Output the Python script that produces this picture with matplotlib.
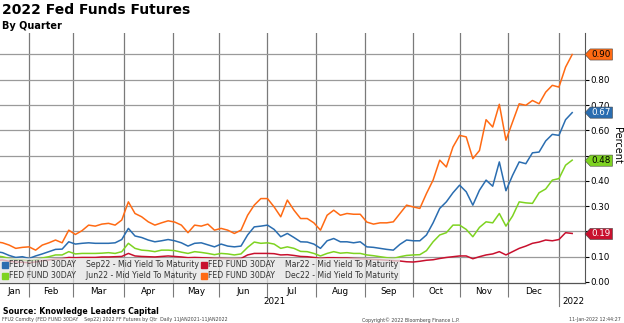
import numpy as np
import pandas as pd
import matplotlib
matplotlib.use("Agg")
import matplotlib.pyplot as plt
import matplotlib.transforms as mtransforms
from matplotlib.lines import Line2D
from matplotlib.patches import Polygon

# dias uteis do grafico (Bloomberg plota so dias da semana)
dias = pd.bdate_range("2021-01-11", "2022-01-11")
amostra = np.arange(0, len(dias), 3)  # um ponto a cada 3 dias uteis

# valores (percent)
dec22 = [0.159, 0.155, 0.146, 0.133, 0.137, 0.139, 0.126, 0.146, 0.155, 0.166,
         0.155, 0.205, 0.188, 0.203, 0.225, 0.221, 0.229, 0.232, 0.225, 0.245,
         0.317, 0.271, 0.258, 0.238, 0.225, 0.234, 0.242, 0.237, 0.225, 0.195,
         0.225, 0.221, 0.229, 0.205, 0.212, 0.205, 0.192, 0.205, 0.264, 0.304,
         0.330, 0.330, 0.297, 0.258, 0.324, 0.284, 0.251, 0.251, 0.234, 0.205,
         0.264, 0.284, 0.264, 0.271, 0.268, 0.268, 0.237, 0.229, 0.234, 0.234,
         0.238, 0.271, 0.304, 0.297, 0.291, 0.350, 0.403, 0.482, 0.455, 0.534,
         0.580, 0.574, 0.488, 0.520, 0.642, 0.613, 0.703, 0.561, 0.633, 0.705,
         0.699, 0.718, 0.705, 0.751, 0.778, 0.771, 0.850, 0.900]
sep22 = [0.120, 0.116, 0.105, 0.097, 0.100, 0.093, 0.103, 0.111, 0.120, 0.129,
         0.130, 0.159, 0.150, 0.153, 0.155, 0.153, 0.153, 0.153, 0.155, 0.168,
         0.212, 0.182, 0.176, 0.166, 0.159, 0.163, 0.168, 0.163, 0.155, 0.142,
         0.153, 0.155, 0.147, 0.139, 0.150, 0.142, 0.139, 0.142, 0.186, 0.218,
         0.221, 0.225, 0.208, 0.179, 0.192, 0.176, 0.159, 0.158, 0.150, 0.133,
         0.163, 0.172, 0.159, 0.159, 0.155, 0.159, 0.139, 0.137, 0.133, 0.129,
         0.126, 0.149, 0.166, 0.163, 0.163, 0.186, 0.234, 0.291, 0.317, 0.353,
         0.383, 0.357, 0.304, 0.363, 0.403, 0.379, 0.475, 0.361, 0.422, 0.475,
         0.468, 0.511, 0.514, 0.558, 0.584, 0.580, 0.642, 0.670]
jun22 = [0.103, 0.100, 0.093, 0.089, 0.087, 0.084, 0.087, 0.095, 0.100, 0.107,
         0.107, 0.120, 0.111, 0.113, 0.113, 0.113, 0.114, 0.116, 0.113, 0.120,
         0.153, 0.133, 0.126, 0.124, 0.120, 0.126, 0.126, 0.124, 0.118, 0.113,
         0.120, 0.117, 0.113, 0.108, 0.113, 0.111, 0.107, 0.111, 0.137, 0.158,
         0.153, 0.155, 0.150, 0.133, 0.139, 0.133, 0.121, 0.120, 0.113, 0.103,
         0.113, 0.120, 0.114, 0.116, 0.113, 0.113, 0.107, 0.104, 0.100, 0.096,
         0.093, 0.100, 0.105, 0.107, 0.108, 0.124, 0.159, 0.186, 0.195, 0.225,
         0.225, 0.208, 0.179, 0.216, 0.238, 0.234, 0.271, 0.221, 0.261, 0.317,
         0.313, 0.311, 0.353, 0.368, 0.403, 0.409, 0.462, 0.482]
mar22 = [0.085, 0.087, 0.082, 0.079, 0.078, 0.076, 0.079, 0.084, 0.087, 0.091,
         0.092, 0.097, 0.096, 0.097, 0.097, 0.097, 0.099, 0.099, 0.100, 0.101,
         0.113, 0.103, 0.101, 0.100, 0.099, 0.101, 0.103, 0.101, 0.099, 0.096,
         0.097, 0.096, 0.095, 0.093, 0.093, 0.092, 0.092, 0.093, 0.107, 0.113,
         0.113, 0.113, 0.112, 0.107, 0.108, 0.105, 0.101, 0.100, 0.097, 0.093,
         0.096, 0.096, 0.095, 0.095, 0.093, 0.092, 0.091, 0.089, 0.088, 0.086,
         0.084, 0.083, 0.080, 0.079, 0.082, 0.086, 0.088, 0.093, 0.097, 0.100,
         0.103, 0.103, 0.092, 0.100, 0.107, 0.111, 0.120, 0.107, 0.120, 0.133,
         0.142, 0.153, 0.158, 0.166, 0.163, 0.168, 0.195, 0.192]
ultimos = [0.90, 0.67, 0.48, 0.19]
meses = ["Jan", "Feb", "Mar", "Apr", "May", "Jun", "Jul", "Aug", "Sep",
         "Oct", "Nov", "Dec"]

cores = {"dec": "#ff6a13", "sep": "#2a6db0", "jun": "#7ed321", "mar": "#c8102e"}

fig = plt.figure(figsize=(6.24, 3.23), dpi=100)
ax = fig.add_axes([0, 40 / 323, 585 / 624, 250 / 323])

ax.plot(amostra, dec22, color=cores["dec"], lw=1.1, zorder=3)
ax.plot(amostra, sep22, color=cores["sep"], lw=1.1, zorder=3)
ax.plot(amostra, jun22, color=cores["jun"], lw=1.1, zorder=3)
ax.plot(amostra, mar22, color=cores["mar"], lw=1.1, zorder=3)

x_esq, x_dir = 1.86, 266.8
ax.set_xlim(x_esq, x_dir)
ax.set_ylim(-0.004, 0.985)

# inicio de cada mes (em indice de dia util)
inicio_mes = [i for i in range(1, len(dias)) if dias[i].month != dias[i - 1].month]
for xm in inicio_mes:
    ax.axvline(xm, color="#7a7a7a", lw=0.9, zorder=1)
for yv in np.arange(0.1, 0.95, 0.1):
    ax.axhline(yv, color="#9a9a9a", lw=0.9, zorder=1)

# ticks do eixo x: separadores nos inicios de mes e nomes no meio
ax.set_xticks(inicio_mes, minor=True)
ax.tick_params(axis="x", which="minor", length=10, width=0.8, color="#7a7a7a")
bordas = [x_esq] + inicio_mes[:12]
centros = [(bordas[i] + bordas[i + 1]) / 2 for i in range(12)]
ax.set_xticks(centros)
ax.set_xticklabels(meses)
ax.tick_params(axis="x", which="major", length=0, pad=3, labelsize=6.3)

trans_x = mtransforms.blended_transform_factory(ax.transData, ax.transAxes)
ax.text(centros[0] / 2 + centros[-1] / 2, -0.072, "2021", transform=trans_x,
        ha="center", va="center", fontsize=6.3)
ax.plot([inicio_mes[11], inicio_mes[11]], [0, -0.09], transform=trans_x,
        color="#7a7a7a", lw=0.8, clip_on=False)
ax.text(inicio_mes[11] + 1.5, -0.072, "2022", transform=trans_x,
        ha="left", va="center", fontsize=6.3)

# eixo y a direita (rotulos cobertos pelas etiquetas ficam vazios)
ax.yaxis.tick_right()
yt = np.arange(0, 0.95, 0.1)
ax.set_yticks(yt)
cobertos = {"0.20", "0.50", "0.90"}
ax.set_yticklabels([f"{v:.2f}" if f"{v:.2f}" not in cobertos else "" for v in yt])
ax.tick_params(axis="y", length=3, width=0.8, pad=1, labelsize=6.3)
ax.yaxis.set_label_position("right")
ax.set_ylabel("Percent", rotation=270, fontsize=7, va="center")
ax.yaxis.set_label_coords(1.054, 0.55)

for lado in ["top", "left"]:
    ax.spines[lado].set_visible(False)
ax.spines["bottom"].set_color("#555555")
ax.spines["right"].set_color("#555555")
ax.spines["bottom"].set_linewidth(0.9)
ax.spines["right"].set_linewidth(0.8)

# etiquetas com o ultimo valor
trans_y = mtransforms.blended_transform_factory(ax.transAxes, ax.transData)
etiquetas = [(ultimos[0], cores["dec"], "black"), (ultimos[1], cores["sep"], "white"),
             (ultimos[2], cores["jun"], "black"), (ultimos[3], cores["mar"], "white")]
meia = 0.022
for v, cor, cor_txt in etiquetas:
    pts = [(1.0, v), (1.009, v + meia), (1.047, v + meia), (1.047, v - meia), (1.009, v - meia)]
    ax.add_patch(Polygon(pts, closed=True, transform=trans_y, facecolor=cor,
                         edgecolor="#444444", lw=0.4, clip_on=False, zorder=10))
    ax.text(1.028, v, f"{v:.2f}", transform=trans_y, ha="center", va="center",
            fontsize=6.3, color=cor_txt, zorder=11, clip_on=False)

# legenda
h = [Line2D([], [], marker="s", ls="none", color=cores["sep"], markersize=4),
     Line2D([], [], marker="s", ls="none", color=cores["jun"], markersize=4),
     Line2D([], [], marker="s", ls="none", color=cores["mar"], markersize=4),
     Line2D([], [], marker="s", ls="none", color=cores["dec"], markersize=4)]
rotulos = ["FED FUND 30DAY    Sep22 - Mid Yield To Maturity",
           "FED FUND 30DAY    Jun22 - Mid Yield To Maturity",
           "FED FUND 30DAY    Mar22 - Mid Yield To Maturity",
           "FED FUND 30DAY    Dec22 - Mid Yield To Maturity"]
leg = ax.legend(h, rotulos, ncol=2, loc="lower left", bbox_to_anchor=(0, 0),
                fontsize=5.6, frameon=True, fancybox=False, borderpad=0.3,
                handlelength=0.6, handletextpad=0.15, columnspacing=0.4,
                labelspacing=0.25, borderaxespad=0.05)
leg.get_frame().set_facecolor("#e4e4e4")
leg.get_frame().set_alpha(0.75)
leg.get_frame().set_edgecolor("none")
for t in leg.get_texts():
    t.set_color("#333333")

# titulos e rodape
fig.text(0.003, 0.99, "2022 Fed Funds Futures", fontsize=10, fontweight="bold",
         ha="left", va="top")
fig.text(0.003, 0.935, "By Quarter", fontsize=7, fontweight="bold",
         ha="left", va="top")
fig.text(0.005, 1 - 311 / 323, "Source: Knowledge Leaders Capital", fontsize=5.6,
         fontweight="bold", ha="left", va="center")
fig.text(0.003, 1 - 320 / 323,
         "FFU2 Comdty (FED FUND 30DAY    Sep22) 2022 FF Futures by Qtr  Daily 11JAN2021-11JAN2022",
         fontsize=3.4, color="#444444", ha="left", va="center")
fig.text(0.58, 1 - 320 / 323, "Copyright\u00a9 2022 Bloomberg Finance L.P.",
         fontsize=3.4, color="#444444", ha="left", va="center")
fig.text(0.995, 1 - 320 / 323, "11-Jan-2022 12:44:27", fontsize=3.4,
         color="#444444", ha="right", va="center")

fig.savefig("out.png", dpi=100)
